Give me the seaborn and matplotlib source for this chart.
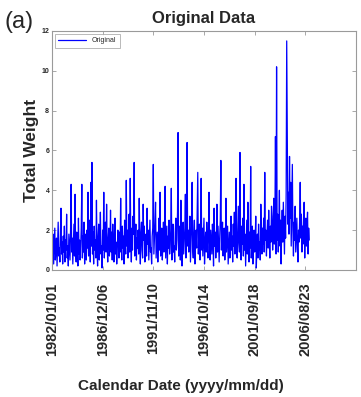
import pandas as pd
import matplotlib
matplotlib.use("Agg")
import matplotlib.pyplot as plt
import matplotlib.dates as mdates
import seaborn as sns

# Values, one every 20 days from 1982/01/01
weights = [
    3.4, 0.6, 1.8, 0.3, 1.2, 2.1, 0.5, 1.0, 1.6, 0.2, 1.3, 2.4, 0.7, 1.1, 0.4, 1.9, 3.1, 0.8, 1.4, 0.3,
    1.7, 0.9, 2.2, 0.4, 1.5, 1.0, 2.8, 0.6, 1.2, 0.2, 1.8, 1.1, 0.5, 2.0, 4.3, 0.9, 1.6, 0.3, 1.3, 2.3,
    0.7, 3.8, 1.0, 0.4, 1.9, 1.4, 0.2, 2.6, 0.8, 1.5, 0.5, 1.2, 2.1, 4.3, 0.6, 1.7, 0.9, 2.4, 0.3, 1.3,
    1.8, 0.5, 2.0, 1.1, 3.9, 0.7, 1.6, 2.5, 0.4, 4.4, 1.2, 5.4, 0.8, 1.9, 0.3, 2.2, 1.0, 1.5, 0.6, 3.5,
    1.1, 0.2, 1.7, 2.3, 0.5, 1.4, 2.9, 0.8, 1.2, 0.1, 2.0, 1.0, 3.9, 0.6, 1.8, 2.4, 0.9, 3.3, 1.3, 0.4,
    1.6, 2.1, 0.7, 1.3, 3.0, 0.9, 1.9, 0.5, 2.3, 1.2, 0.4, 1.7, 2.6, 0.8, 1.4, 0.3, 1.0, 2.0, 1.5, 0.6,
    1.9, 0.9, 3.6, 1.3, 0.5, 2.2, 1.1, 1.7, 0.3, 2.5, 1.4, 0.8, 4.5, 1.2, 2.0, 0.6, 1.6, 2.8, 0.9, 4.6,
    1.5, 0.4, 2.1, 1.0, 2.7, 1.8, 5.4, 0.7, 1.3, 2.3, 0.5, 1.6, 1.1, 2.0, 0.8, 3.6, 1.4, 0.3, 1.9, 2.4,
    1.0, 0.6, 3.3, 1.5, 2.2, 0.4, 1.2, 1.8, 0.7, 3.1, 1.3, 2.0, 0.5, 1.6, 2.5, 0.9, 1.1, 0.3, 1.7, 2.1,
    5.3, 0.8, 1.5, 2.3, 3.4, 0.6, 1.2, 1.9, 0.4, 1.4, 2.6, 1.0, 3.9, 0.7, 1.6, 2.1, 0.5, 1.3, 2.4, 0.9,
    1.8, 4.2, 0.6, 1.4, 2.2, 0.3, 1.7, 1.1, 2.5, 0.8, 1.3, 2.0, 4.1, 0.5, 1.6, 2.3, 0.9, 1.2, 0.4, 1.9,
    2.6, 1.0, 1.5, 2.9, 6.9, 0.7, 1.8, 2.2, 0.5, 3.5, 1.3, 0.2, 1.9, 2.4, 0.8, 1.4, 2.1, 3.8, 0.6, 1.7,
    6.4, 1.2, 2.0, 0.9, 1.6, 2.7, 0.4, 1.3, 2.2, 4.4, 1.0, 0.6, 1.8, 2.5, 0.3, 1.5, 2.0, 1.1, 2.9, 4.9,
    0.8, 1.7, 2.3, 0.5, 1.4, 4.6, 1.0, 2.1, 0.7, 1.6, 2.6, 0.3, 1.2, 1.9, 0.9, 2.4, 1.3, 0.6, 1.8, 3.9,
    1.1, 0.5, 2.0, 1.4, 0.8, 2.3, 1.6, 0.2, 3.1, 1.2, 1.9, 0.6, 1.5, 3.3, 0.9, 2.2, 1.3, 0.4, 1.7, 2.5,
    5.5, 1.0, 1.8, 2.4, 0.7, 1.5, 2.1, 0.5, 1.3, 3.6, 0.9, 1.6, 2.2, 0.3, 1.1, 1.9, 0.6, 1.4, 2.7, 1.0,
    1.7, 0.4, 2.3, 1.2, 2.9, 0.8, 1.5, 4.6, 1.1, 0.6, 2.0, 3.2, 1.4, 0.9, 5.9, 1.6, 0.5, 2.2, 1.3, 2.6,
    0.7, 4.3, 1.0, 1.8, 0.2, 1.4, 2.5, 0.8, 3.4, 1.2, 0.4, 1.9, 1.1, 5.2, 0.6, 1.6, 2.2, 0.3, 1.3, 2.0,
    0.9, 1.5, 2.7, 0.1, 1.2, 1.8, 0.6, 2.3, 1.0, 1.4, 0.5, 3.3, 1.7, 0.8, 2.1, 1.3, 2.6, 0.9, 4.9, 1.5,
    2.0, 0.7, 1.8, 2.5, 1.1, 3.0, 1.6, 0.6, 2.2, 1.4, 3.2, 2.7, 1.0, 1.9, 3.6, 1.3, 2.4, 6.7, 0.8, 10.2,
    1.5, 2.8, 0.9, 2.1, 4.0, 1.2, 2.5, 0.3, 1.9, 3.0, 1.4, 3.4, 2.2, 0.8, 2.7, 1.6, 3.8, 11.5, 6.4, 2.3,
    3.9, 1.8, 5.7, 2.6, 4.4, 1.2, 3.1, 5.3, 2.0, 0.7, 2.4, 1.5, 3.2, 0.9, 1.8, 2.6, 1.1, 0.4, 2.0, 1.4,
    2.5, 4.4, 1.6, 2.8, 0.9, 2.2, 1.3, 2.7, 3.4, 0.6, 2.0, 2.6, 1.2, 2.3, 2.9, 0.8, 2.1, 1.5,
]
start_date = "1982-01-01"
step_days = 20
tick_step_days = 1800
y_ticks = [0, 2, 4, 6, 8, 10, 12]

df = pd.DataFrame({
    "date": pd.date_range(start_date, periods=len(weights), freq=f"{step_days}D"),
    "weight": weights,
})

sns.set_style("white")
plt.rcParams["font.family"] = ["Liberation Sans", "DejaVu Sans"]

fig = plt.figure(figsize=(3.61, 3.97), dpi=100)
ax = fig.add_axes([0.144, 0.320, 0.842, 0.602])

sns.lineplot(data=df, x="date", y="weight", color="blue", linewidth=0.9,
             label="Original", ax=ax)

t0 = pd.Timestamp(start_date)
ticks = [t0 + pd.Timedelta(days=tick_step_days * k) for k in range(6)]
ax.set_xlim(t0, t0 + pd.Timedelta(days=tick_step_days * 6))
ax.set_xticks(ticks)
ax.xaxis.set_major_formatter(mdates.DateFormatter("%Y/%m/%d"))
ax.set_ylim(0, 12)
ax.set_yticks(y_ticks)

for s in ax.spines.values():
    s.set_color("#9a9a9a")
    s.set_linewidth(0.8)
ax.tick_params(direction="in", length=3, width=0.6, color="#9a9a9a",
               top=True, right=True, bottom=True, left=True)
ax.tick_params(axis="y", labelsize=5, pad=2)
ax.tick_params(axis="x", labelsize=10.5, labelrotation=90, pad=9)
for lbl in ax.get_xticklabels() + ax.get_yticklabels():
    lbl.set_fontweight("bold")

ax.set_title("Original Data", fontsize=12, fontweight="bold", pad=6)
ax.set_ylabel("Total Weight", fontsize=12.5, fontweight="bold", labelpad=2)
ax.set_xlabel("Calendar Date (yyyy/mm/dd)", fontsize=11, fontweight="bold")
ax.xaxis.set_label_coords(0.423, -0.455)
fig.text(0.012, 0.945, "(a)", fontsize=17, va="center", ha="left")

leg = ax.legend(loc="upper left", fontsize=5, frameon=True, fancybox=False,
                handlelength=4, borderpad=0.5, borderaxespad=0.4)
leg.get_frame().set_edgecolor("#9a9a9a")
leg.get_frame().set_linewidth(0.6)

fig.savefig("out.png", dpi=100)
